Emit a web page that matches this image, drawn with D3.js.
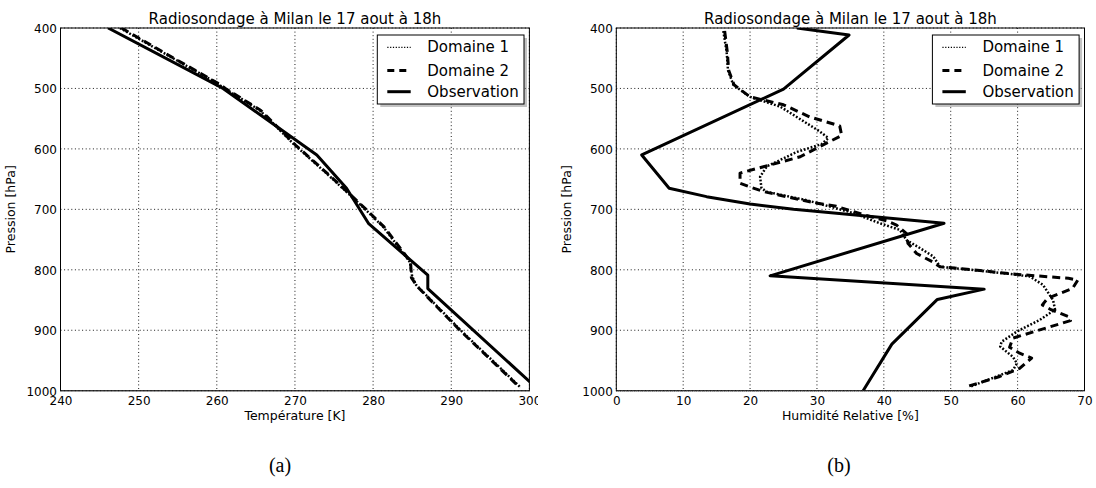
<!DOCTYPE html>
<html>
<head>
<meta charset="utf-8">
<script src="https://cdn.jsdelivr.net/npm/d3@7"></script>
<style>
  html, body { margin: 0; padding: 0; background: #fff; }
  svg { display: block; font-family: "DejaVu Sans", sans-serif; }
</style>
</head>
<body>
<script>
// ---------------- DATA ----------------
const chartTitle = "Radiosondage à Milan le 17 aout à 18h";
const seriesNames = ["Domaine 1", "Domaine 2", "Observation"];
const pressureTicks = [400, 500, 600, 700, 800, 900, 1000];
const tempTicks = [240, 250, 260, 270, 280, 290, 300];
const humTicks = [0, 10, 20, 30, 40, 50, 60, 70];

// (a) Temperature [K]
const tempObsP = [400, 500, 610, 665, 723, 809, 831, 1000];
const tempObs  = [246.1, 260.8, 272.8, 276.6, 279.4, 287.0, 287.0, 301.3];
const tempD1P  = [400, 450, 491, 500, 536, 594, 640, 671, 700, 729, 787, 811, 825, 900, 995];
const tempD1   = [247.6, 254.4, 260.0, 261.0, 265.5, 270.0, 274.0, 276.6, 279.0, 281.3, 284.7, 285.0, 285.5, 291.2, 298.9];
const tempD2P  = [400, 450, 491, 500, 536, 594, 640, 671, 700, 729, 787, 813, 827, 900, 995];
const tempD2   = [247.8, 254.5, 260.1, 261.1, 265.6, 270.1, 274.1, 276.7, 279.1, 281.4, 284.8, 284.9, 285.6, 291.1, 298.8];

// (b) Relative humidity [%]
const humObsP = [400, 411.6, 501, 610, 665, 679, 691, 700, 723, 810, 832, 849, 923, 1000];
const humObs  = [27, 34.8, 25, 3.8, 7.9, 13.5, 20, 26.5, 49, 23, 55, 48, 41.2, 36.9];
const humD1P  = [405, 440, 470, 494, 514, 530, 571, 582, 592, 605, 629, 646, 665, 671, 685, 706, 723, 734, 751, 764, 778, 795, 800, 807, 811, 825, 850, 866, 883, 902, 919, 927, 944, 955, 966, 993];
const humD1   = [16.0, 16.5, 16.7, 17.5, 20.0, 24.5, 30.4, 31.7, 30.7, 27.0, 22.5, 21.5, 21.7, 22.5, 28.5, 35.4, 39.4, 42.4, 43.4, 45.4, 47.4, 48.4, 53.0, 59.0, 61.8, 63.8, 65.3, 65.6, 63.3, 59.9, 57.6, 57.4, 59.3, 59.9, 59.3, 53.0];
const humD2P  = [405, 440, 470, 494, 514, 527, 547, 562, 578, 590, 613, 640, 657, 663, 671, 689, 695, 708, 719, 726, 740, 756, 773, 787, 795, 800, 807, 814, 817, 831, 847, 858, 866, 878, 884, 913, 928, 938, 946, 963, 977, 993];
const humD2   = [16.2, 16.6, 16.8, 17.6, 20.0, 25.0, 28.9, 33.4, 33.7, 31.5, 27.5, 18.5, 18.5, 20.0, 22.2, 29.5, 32.9, 36.7, 40.4, 41.9, 43.4, 43.6, 44.9, 47.3, 48.4, 53.4, 59.3, 67.6, 69.0, 68.2, 64.5, 63.7, 65.0, 67.7, 67.9, 59.3, 58.8, 60.3, 62.1, 60.3, 57.2, 52.5];

// ---------------- DRAW ----------------
const W = 1096, H = 488;
const svg = d3.select("body").append("svg").attr("width", W).attr("height", H);

const styles = [
  { width: 2.5, dash: "1.8,1.8" }, // Domaine 1 dotted
  { width: 3, dash: "8,5" },       // Domaine 2 dashed
  { width: 3, dash: null }         // Observation solid
];

function panel(cfg) {
  const g = svg.append("g");
  const clipId = "clip" + cfg.id;
  const outerClip = "oclip" + cfg.id;
  svg.append("clipPath").attr("id", clipId).append("rect")
    .attr("x", cfg.x0).attr("y", cfg.y0).attr("width", cfg.x1 - cfg.x0).attr("height", cfg.y1 - cfg.y0);
  svg.append("clipPath").attr("id", outerClip).append("rect")
    .attr("x", cfg.clipL).attr("y", 0).attr("width", cfg.clipR - cfg.clipL).attr("height", H);
  g.attr("clip-path", `url(#${outerClip})`);

  const x = d3.scaleLinear().domain(cfg.xDomain).range([cfg.x0, cfg.x1]);
  const y = d3.scaleLinear().domain([400, 1000]).range([cfg.y0, cfg.y1]);

  // grid
  const grid = g.append("g").attr("stroke", "#000").attr("stroke-width", 0.9).attr("stroke-dasharray", "1,2.6");
  cfg.xTicks.forEach(t => grid.append("line").attr("x1", x(t)).attr("x2", x(t)).attr("y1", cfg.y0).attr("y2", cfg.y1));
  pressureTicks.forEach(t => grid.append("line").attr("x1", cfg.x0).attr("x2", cfg.x1).attr("y1", y(t)).attr("y2", y(t)));

  // lines
  const dg = g.append("g").attr("clip-path", `url(#${clipId})`);
  cfg.series.forEach((s, i) => {
    const pts = s.p.map((p, k) => [p, s.v[k]]);
    const line = d3.line().x(d => x(d[1])).y(d => y(d[0]));
    dg.append("path").datum(pts).attr("d", line)
      .attr("fill", "none").attr("stroke", "#000")
      .attr("stroke-width", styles[i].width)
      .attr("stroke-dasharray", styles[i].dash)
      .attr("stroke-linejoin", "round");
  });

  // frame
  g.append("rect").attr("x", cfg.x0).attr("y", cfg.y0).attr("width", cfg.x1 - cfg.x0).attr("height", cfg.y1 - cfg.y0)
    .attr("fill", "none").attr("stroke", "#000").attr("stroke-width", 1);
  g.append("line").attr("x1", cfg.x0).attr("x2", cfg.x1).attr("y1", cfg.y1 + 0.5).attr("y2", cfg.y1 + 0.5)
    .attr("stroke", "#555").attr("stroke-width", 1).attr("stroke-dasharray", "1,1");

  // axes with d3
  const xAxis = d3.axisBottom(x).tickValues(cfg.xTicks).tickSize(0).tickPadding(0).tickFormat(d3.format("d"));
  const xa = g.append("g").attr("transform", `translate(0,${cfg.y1})`).call(xAxis);
  xa.select(".domain").remove();
  xa.selectAll("text").attr("dy", null).attr("y", 14).attr("font-size", 12).attr("font-family", "DejaVu Sans").attr("fill", "#000");

  const yAxis = d3.axisLeft(y).tickValues(pressureTicks).tickSize(0).tickPadding(0).tickFormat(d3.format("d"));
  const ya = g.append("g").attr("transform", `translate(${cfg.x0 - 3.5},0)`).call(yAxis);
  ya.select(".domain").remove();
  ya.selectAll("text").attr("dy", "0.36em").attr("x", 0).attr("font-size", 12).attr("font-family", "DejaVu Sans").attr("fill", "#000");

  // title and labels
  g.append("text").attr("x", (cfg.x0 + cfg.x1) / 2).attr("y", 23.5).attr("text-anchor", "middle")
    .attr("font-size", 15).text(chartTitle);
  g.append("text").attr("x", (cfg.x0 + cfg.x1) / 2).attr("y", 420).attr("text-anchor", "middle")
    .attr("font-size", 12.5).text(cfg.xLabel);
  g.append("text").attr("transform", `translate(${cfg.yLabelX},${(cfg.y0 + cfg.y1) / 2}) rotate(-90)`)
    .attr("text-anchor", "middle").attr("dominant-baseline", "central")
    .attr("font-size", 12.5).text("Pression [hPa]");

  // legend
  const lx = cfg.x1 - 5.4 - 146.7, ly = 35, lw = 146.7, lh = 69;
  const lg = g.append("g");
  lg.append("rect").attr("x", lx + 3).attr("y", ly + 3).attr("width", lw).attr("height", lh).attr("fill", "#888").attr("opacity", 0.5);
  lg.append("rect").attr("x", lx).attr("y", ly).attr("width", lw).attr("height", lh)
    .attr("fill", "#fff").attr("stroke", "#000").attr("stroke-width", 1);
  const rows = [47.3, 70.5, 91.7];
  seriesNames.forEach((name, i) => {
    lg.append("line").attr("x1", lx + 10).attr("x2", lx + 33.4).attr("y1", rows[i]).attr("y2", rows[i])
      .attr("stroke", "#000").attr("stroke-width", i === 0 ? 1.3 : styles[i].width)
      .attr("stroke-dasharray", i === 0 ? "1.2,1.6" : (i === 1 ? "7,5" : null));
    lg.append("text").attr("x", lx + 50).attr("y", rows[i]).attr("dominant-baseline", "central")
      .attr("font-size", 15).text(name);
  });

  // subcaption
  svg.append("text").attr("x", cfg.capX).attr("y", 472).attr("text-anchor", "middle")
    .attr("font-family", "Liberation Serif, serif").attr("font-size", 20).text(cfg.caption);
}

panel({
  id: "a", x0: 60.5, x1: 529.4, y0: 28, y1: 390.7, clipL: 0, clipR: 538,
  xDomain: [240, 300], xTicks: tempTicks, xLabel: "Température [K]", yLabelX: 10.5,
  series: [{ p: tempD1P, v: tempD1 }, { p: tempD2P, v: tempD2 }, { p: tempObsP, v: tempObs }],
  caption: "(a)", capX: 280
});
panel({
  id: "b", x0: 616.3, x1: 1084.5, y0: 28, y1: 390.7, clipL: 548, clipR: 1096,
  xDomain: [0, 70], xTicks: humTicks, xLabel: "Humidité Relative [%]", yLabelX: 566.3,
  series: [{ p: humD1P, v: humD1 }, { p: humD2P, v: humD2 }, { p: humObsP, v: humObs }],
  caption: "(b)", capX: 839
});
</script>
</body>
</html>
